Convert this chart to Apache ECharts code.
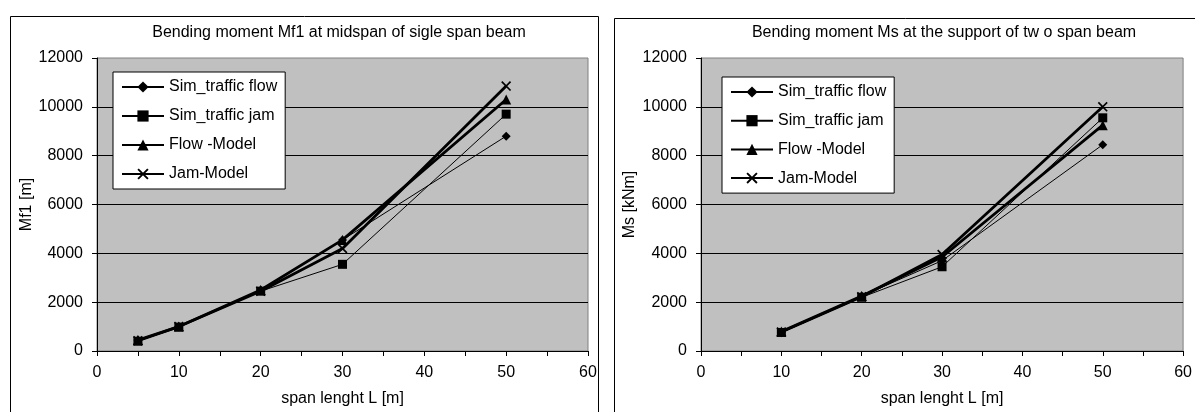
<!DOCTYPE html>
<html><head><meta charset="utf-8">
<script src="https://cdn.jsdelivr.net/npm/echarts@6/dist/echarts.min.js"></script>
<style>html,body{margin:0;padding:0;background:#fff}#c{width:1195px;height:412px}</style>
</head><body><div id="c"></div>
<script>
const seriesNames = ['Sim_traffic flow', 'Sim_traffic jam', 'Flow -Model', 'Jam-Model'];
const titleLeft = 'Bending moment Mf1 at midspan of sigle span beam';
const titleRight = 'Bending moment Ms at the support of tw o span beam';
const yNameLeft = 'Mf1 [m]';
const yNameRight = 'Ms [kNm]';
const xName = 'span lenght L [m]';

const spanLeft = [5, 10, 20, 30, 50];
const leftSimFlow = [450, 1000, 2500, 4550, 8800];
const leftSimJam = [400, 980, 2450, 3550, 9700];
const leftFlowModel = [450, 1000, 2500, 4550, 10300];
const leftJamModel = [420, 1000, 2450, 4200, 10850];

const spanRight = [10, 20, 30, 50];
const rightSimFlow = [750, 2250, 3700, 8450];
const rightSimJam = [760, 2200, 3450, 9550];
const rightFlowModel = [800, 2250, 3850, 9250];
const rightJamModel = [780, 2220, 3950, 10000];

const FONT = 'Liberation Sans';
const xMark = 'path://M0,1.2L1.2,0L10,8.8L8.8,10Z M8.8,0L10,1.2L1.2,10L0,8.8Z';
const symbols = ['diamond', 'rect', 'triangle', xMark];
const symSizes = [9, 9, 10, 10];
const widths = [1, 1, 2.8, 2.8];

function zip(xs, ys) { return xs.map((x, i) => [x, ys[i]]); }

function mkSeries(gi, xs, arrs) {
  return arrs.map((ys, i) => ({
    name: seriesNames[i], type: 'line', xAxisIndex: gi, yAxisIndex: gi,
    data: zip(xs, ys), symbol: symbols[i], symbolSize: symSizes[i],
    showAllSymbol: true, animation: false,
    lineStyle: { color: '#000', width: widths[i] },
    itemStyle: { color: '#000' },
    z: 3 + i
  }));
}

const grids = [
  { left: 97, top: 58, width: 491, height: 293 },
  { left: 701, top: 58, width: 491, height: 293 }
].map(g => Object.assign(g, { show: true, backgroundColor: '#c0c0c0', borderColor: '#808080', borderWidth: 1, containLabel: false }));

function xAx(gi) {
  return {
    gridIndex: gi, type: 'value', min: 0, max: 60, interval: 5,
    name: xName, nameLocation: 'middle', nameGap: 40,
    nameTextStyle: { fontFamily: FONT, fontSize: 16, color: '#000' },
    axisLine: { lineStyle: { color: '#000', width: 1 } },
    axisTick: { show: true, length: 5, lineStyle: { color: '#000' } },
    axisLabel: { margin: 14, fontFamily: FONT, fontSize: 16, color: '#000',
      formatter: v => (v % 10 === 0 ? String(v) : ''), showMaxLabel: true },
    splitLine: { show: false }
  };
}
function yAx(gi, nm, gap) {
  return {
    gridIndex: gi, type: 'value', min: 0, max: 12000, interval: 2000,
    name: nm, nameLocation: 'middle', nameGap: gap,
    nameTextStyle: { fontFamily: FONT, fontSize: 16, color: '#000' },
    axisLine: { show: true, lineStyle: { color: '#000', width: 1 } },
    axisTick: { show: true, length: 5, lineStyle: { color: '#000' } },
    axisLabel: { margin: 14, fontFamily: FONT, fontSize: 16, color: '#000', formatter: v => String(v) },
    splitLine: { show: true, showMaxLine: false, lineStyle: { color: '#000', width: 1 } }
  };
}

function legend(left, top, gap) {
  return {
    data: seriesNames.slice(),
    orient: 'vertical', left: left, top: top,
    padding: [7, 8, 7, 8], itemGap: gap, itemWidth: 42, itemHeight: 14,
    backgroundColor: '#fff', borderColor: '#000', borderWidth: 1,
    textStyle: { fontFamily: FONT, fontSize: 16, color: '#000' },
    selectedMode: false
  };
}

const chart = echarts.init(document.getElementById('c'));
chart.setOption({
  animation: false,
  grid: grids,
  xAxis: [xAx(0), xAx(1)],
  yAxis: [yAx(0, yNameLeft, 62), yAx(1, yNameRight, 63)],
  legend: [legend(113, 72, 13), legend(722, 77, 12.7)],
  series: mkSeries(0, spanLeft, [leftSimFlow, leftSimJam, leftFlowModel, leftJamModel])
    .concat(mkSeries(1, spanRight, [rightSimFlow, rightSimJam, rightFlowModel, rightJamModel])),
  graphic: [
    { type: 'rect', shape: { x: 10.5, y: 16.5, width: 588, height: 430 }, style: { fill: null, stroke: '#000', lineWidth: 1 }, z: -1 },
    { type: 'rect', shape: { x: 614.5, y: 18.5, width: 620, height: 430 }, style: { fill: null, stroke: '#000', lineWidth: 1 }, z: -1 },
    { type: 'text', x: 339, y: 33, style: { text: titleLeft, font: '16px "Liberation Sans"', fill: '#000', textAlign: 'center', textVerticalAlign: 'middle' } },
    { type: 'text', x: 944, y: 33, style: { text: titleRight, font: '16px "Liberation Sans"', fill: '#000', textAlign: 'center', textVerticalAlign: 'middle' } }
  ]
});
</script></body></html>
